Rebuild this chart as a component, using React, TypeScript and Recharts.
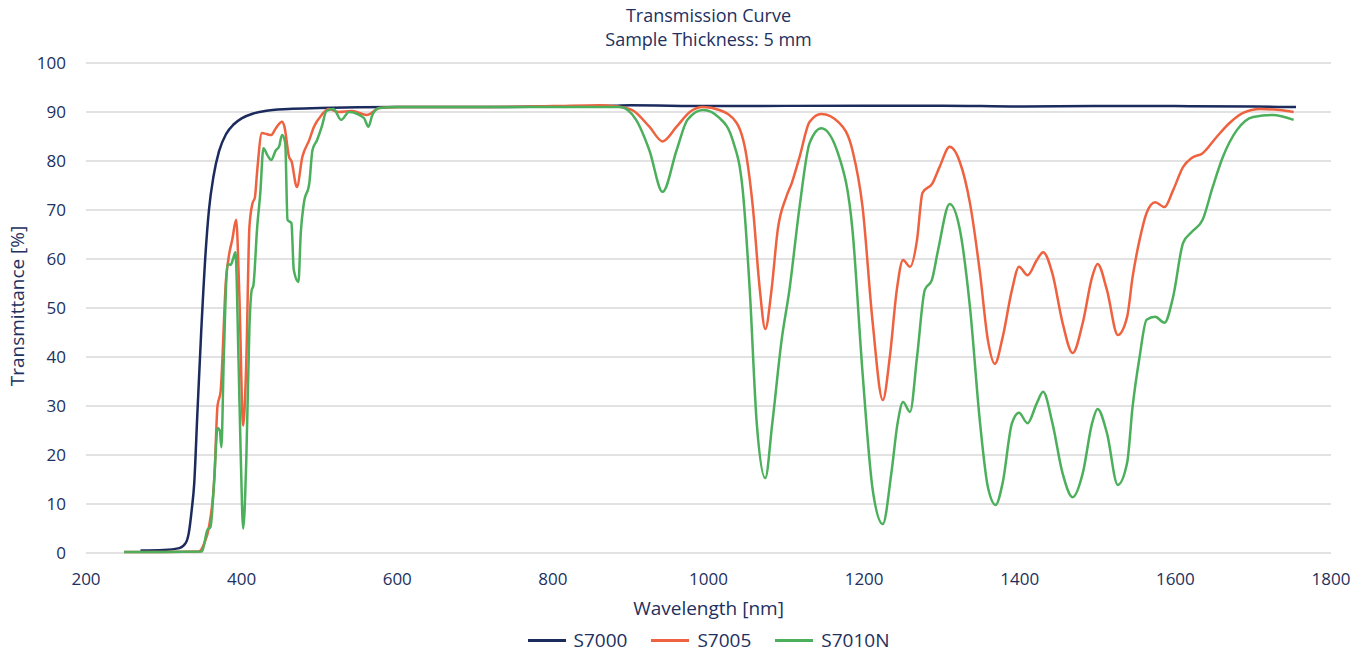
import React from 'react';
import { LineChart, Line, XAxis, YAxis, CartesianGrid } from 'recharts';

// wavelength [nm] / transmittance [%]
const s7000Nm = [270, 300, 320, 328, 332, 336, 339, 343, 348, 354, 358, 364, 371, 380, 390, 400, 415, 430, 460, 500, 600, 700, 800, 880, 900, 1000, 1200, 1300, 1400, 1500, 1600, 1700, 1755];
const s7000T = [0.5, 0.6, 1, 2, 4, 9, 14, 28, 45, 62, 70, 77, 82, 85.5, 87.5, 88.7, 89.7, 90.2, 90.6, 90.8, 91, 91, 91.1, 91.3, 91.4, 91.2, 91.3, 91.3, 91.1, 91.2, 91.2, 91.1, 91.0];

const s7005Nm = [249, 300, 345, 352, 358, 365, 369, 373, 380, 384, 388, 393, 397, 402, 406, 410, 414, 417, 420, 426, 432, 438, 444, 452, 455, 461, 464, 471, 478, 487, 493, 500, 512, 525, 542, 561, 577, 600, 700, 800, 860, 880, 902, 924, 941, 959, 976, 993, 1014, 1036, 1049, 1057, 1066, 1073, 1081, 1089, 1100, 1107, 1117, 1130, 1145, 1168, 1185, 1198, 1211, 1224, 1233, 1242, 1250, 1259, 1268, 1275, 1288, 1297, 1310, 1323, 1336, 1349, 1359, 1368, 1378, 1390, 1399, 1410, 1422, 1430, 1442, 1455, 1468, 1481, 1493, 1500, 1512, 1526, 1538, 1545, 1554, 1563, 1574, 1586, 1597, 1610, 1621, 1635, 1653, 1670, 1687, 1709, 1734, 1752];
const s7005T = [0.2, 0.2, 0.3, 2, 5.3, 15.5, 30, 33, 56, 61, 64, 68, 53, 26, 39, 66.5, 71.4, 72.5, 78, 85.7, 85.5, 85.3, 86.7, 88, 87, 80.8, 80, 74.7, 80.8, 84.3, 87, 88.8, 90.6, 90, 90.2, 89.4, 90.8, 91, 91, 91.2, 91.4, 91.2, 90.4, 87, 84, 87, 90, 91, 90.4, 87.8, 80.8, 70.6, 53.7, 45.7, 53.7, 66, 72.7, 75.5, 80.8, 88, 89.6, 87.8, 82.2, 70.6, 47, 31.2, 40, 53.7, 59.8, 58.4, 63.9, 73.5, 75.5, 78.8, 82.9, 79.8, 71.4, 57, 43.5, 38.6, 44, 53.7, 58.4, 56.7, 59.8, 61.4, 57, 47, 40.8, 47, 56.3, 59, 53.7, 44.5, 48.2, 56.3, 63.9, 69.4, 71.6, 70.6, 74, 78.8, 80.6, 81.6, 84.9, 87.8, 89.8, 90.6, 90.4, 90];

const s7010Nm = [249, 300, 349, 356, 360, 365, 369, 372, 374, 377, 382, 386, 389, 392, 396, 399, 402, 406, 410, 413, 415, 420, 424, 428, 433, 438, 444, 448, 452, 456, 459, 464, 467, 473, 476, 480, 487, 491, 497, 503, 509, 518, 528, 538, 557, 563, 568, 577, 600, 700, 800, 886, 907, 924, 941, 959, 973, 993, 1014, 1031, 1044, 1053, 1062, 1073, 1082, 1094, 1104, 1117, 1130, 1145, 1168, 1185, 1198, 1211, 1224, 1235, 1243, 1250, 1259, 1268, 1278, 1287, 1295, 1310, 1323, 1336, 1349, 1359, 1369, 1378, 1390, 1399, 1410, 1422, 1430, 1442, 1455, 1468, 1481, 1493, 1500, 1512, 1526, 1538, 1545, 1554, 1563, 1574, 1586, 1597, 1610, 1621, 1635, 1648, 1661, 1679, 1700, 1725, 1752];
const s7010T = [0.2, 0.2, 0.3, 4.7, 5.3, 15.5, 25.5, 25, 21.6, 39.4, 59, 58.8, 60, 61.4, 39.4, 19, 5, 19, 46, 53.7, 54.5, 66.5, 73.5, 82.6, 81.2, 80.2, 82.2, 82.9, 85.3, 83.7, 68, 67.3, 57.8, 55.3, 65.3, 71.4, 75.5, 82.2, 84.3, 87, 90.2, 90.6, 88.4, 90, 88.8, 87, 89.4, 90.8, 91, 91, 91, 91, 88.4, 82.2, 73.7, 82.2, 88.4, 90.4, 88.8, 84.3, 74, 53.7, 26.5, 15.3, 26.5, 43.5, 53.7, 70.6, 83.7, 86.7, 80.8, 66, 36.7, 12.9, 5.9, 16.3, 26.5, 30.8, 28.8, 40, 53.7, 55.7, 61.8, 71.2, 66, 50.2, 26.5, 13.5, 9.8, 14.3, 26.5, 28.6, 26.5, 30.6, 32.9, 26.5, 16.3, 11.4, 16.3, 26.5, 29.4, 24.5, 13.9, 18.4, 29.8, 40, 47.6, 48.2, 47, 52.2, 63.3, 65.5, 68, 74.7, 80.8, 86.3, 89, 89.4, 88.4];

const xTicks = [200, 400, 600, 800, 1000, 1200, 1400, 1600, 1800];
const yTicks = [0, 10, 20, 30, 40, 50, 60, 70, 80, 90, 100];

const seriesNames = ['S7000', 'S7005', 'S7010N'];
const seriesColors = ['#1c2b5e', '#ee6240', '#4caf5c'];

const toRows = (nm: number[], t: number[]) => nm.map((x, i) => ({ nm: x, t: t[i] }));
const seriesData = [toRows(s7000Nm, s7000T), toRows(s7005Nm, s7005T), toRows(s7010Nm, s7010T)];

const FONT = '"Open Sans", sans-serif';
const TEXT = '#22305e';

export default function App() {
  const W = 1349;
  const H = 636;
  const plotLeft = 78;
  const plotRight = 1323;
  const plotTop = 55;
  const plotBottom = 545;
  const plotMidX = (plotLeft + plotRight) / 2;

  return (
    <div style={{ position: 'relative', width: W, height: 644, fontFamily: FONT, color: TEXT }}>
      <div style={{ position: 'absolute', left: plotMidX - 300, width: 600, top: -5, textAlign: 'center', fontSize: 18, lineHeight: '24px' }}>
        <div>Transmission Curve</div>
        <div>Sample Thickness: 5 mm</div>
      </div>
      <LineChart width={W} height={H} margin={{ top: plotTop, right: W - plotRight, bottom: H - plotBottom - 30, left: 0 }}>
        <CartesianGrid horizontal vertical={false} stroke="#d9d9d9" strokeWidth={1.3} />
        <XAxis
          type="number"
          dataKey="nm"
          domain={[200, 1800]}
          ticks={xTicks}
          height={30}
          axisLine={false}
          tickLine={false}
          tickSize={0}
          tickMargin={20}
          tick={{ fill: TEXT, fontSize: 17, fontFamily: FONT }}
          allowDuplicatedCategory={false}
        />
        <YAxis
          type="number"
          domain={[0, 100]}
          ticks={yTicks}
          width={plotLeft}
          axisLine={false}
          tickLine={false}
          tickSize={0}
          tickMargin={20}
          tick={{ fill: TEXT, fontSize: 17, fontFamily: FONT }}
        />
        {seriesData.map((d, i) => (
          <Line
            key={seriesNames[i]}
            data={d}
            dataKey="t"
            name={seriesNames[i]}
            type="monotone"
            stroke={seriesColors[i]}
            strokeWidth={2.5}
            dot={false}
            activeDot={false}
            isAnimationActive={false}
          />
        ))}
      </LineChart>
      <div style={{ position: 'absolute', left: 0, top: (plotTop + plotBottom) / 2 - 2, width: 20, height: 0 }}>
        <div style={{ position: 'absolute', left: 9, top: 0, transform: 'translate(-50%, -50%) rotate(-90deg)', whiteSpace: 'nowrap', fontSize: 19, lineHeight: '24px' }}>
          Transmittance [%]
        </div>
      </div>
      <div style={{ position: 'absolute', left: plotMidX - 200, width: 400, top: 588, textAlign: 'center', fontSize: 19, lineHeight: '24px' }}>
        Wavelength [nm]
      </div>
      <div style={{ position: 'absolute', left: plotMidX - 300, width: 600, top: 620, display: 'flex', justifyContent: 'center', fontSize: 19, lineHeight: '24px' }}>
        {seriesNames.map((n, i) => (
          <div key={n} style={{ display: 'flex', alignItems: 'center', margin: '0 12px' }}>
            <span style={{ display: 'inline-block', width: 38, height: 3, background: seriesColors[i], marginRight: 8 }} />
            <span>{n}</span>
          </div>
        ))}
      </div>
    </div>
  );
}
